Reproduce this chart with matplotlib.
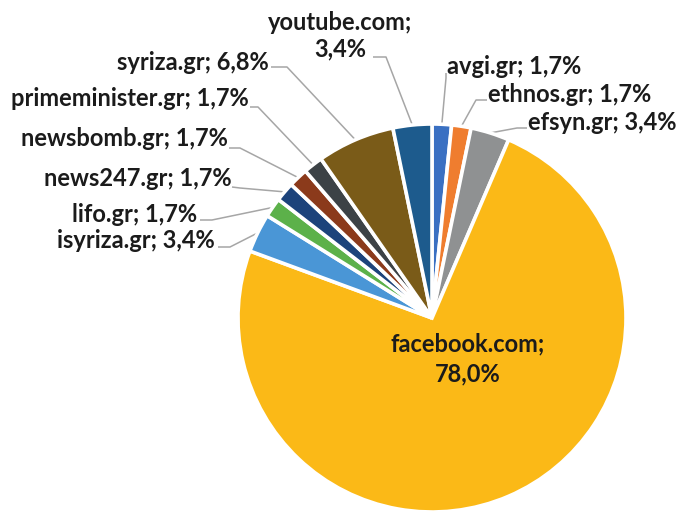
import numpy as np
import matplotlib
matplotlib.use("Agg")
import matplotlib.pyplot as plt

# ---- data ----
sites = ["avgi.gr", "ethnos.gr", "efsyn.gr", "facebook.com", "isyriza.gr", "lifo.gr",
         "news247.gr", "newsbomb.gr", "primeminister.gr", "syriza.gr", "youtube.com"]
values = [1.7, 1.7, 3.4, 78.0, 3.4, 1.7, 1.7, 1.7, 1.7, 6.8, 3.4]
value_labels = ["1,7%", "1,7%", "3,4%", "78,0%", "3,4%", "1,7%", "1,7%", "1,7%", "1,7%", "6,8%", "3,4%"]
colors = ["#3a70c2", "#ef7d2f", "#8f9192", "#fbb917", "#4a96d6", "#5cb14a",
          "#1c437b", "#8b3a1b", "#3c4246", "#7a5b18", "#1d5b8d"]

# ---- layout (pixel coords, origin top-left) ----
W, H = 677, 515
CX, CY, R = 432, 318, 194
# text anchor (x, y, ha, separator), leader start, leader elbow
label_layout = {
    "avgi.gr":          ((447, 67, "left", "; "),  (446, 73), (446, 78)),
    "ethnos.gr":        ((488, 95, "left", "; "),  (487, 100), (476, 100)),
    "efsyn.gr":         ((528, 123, "left", "; "), (527, 128), (517, 128)),
    "isyriza.gr":       ((215, 240, "right", "; "), (218, 247), (230, 247)),
    "lifo.gr":          ((197, 214, "right", "; "), (200, 220), (212, 220)),
    "news247.gr":       ((232, 179, "right", "; "), (232, 187), (240, 188)),
    "newsbomb.gr":      ((228, 139, "right", "; "), (229, 148), (240, 148)),
    "primeminister.gr": ((249, 99, "right", "; "),  (250, 107), (258, 107)),
    "syriza.gr":        ((269, 62, "right", "; "),  (271, 67), (287, 67)),
    "youtube.com":      ((340, 36, "center", ";\n"), (373, 57), (386, 57)),
}
fb_text_pos = (468, 359)

FONT = ["Lato", "DejaVu Sans"]
FS = 17
TXT = "#1b1b1b"
LINE = "#a6a6a6"

fig = plt.figure(figsize=(W / 100, H / 100), dpi=100)
ax = fig.add_axes([0, 0, 1, 1])

wedges, _ = ax.pie(values, colors=colors, startangle=90, counterclock=False,
                   radius=R, center=(CX, H - CY),
                   wedgeprops=dict(edgecolor="white", linewidth=2.6),
                   frame=True)
ax.set_xlim(0, W)
ax.set_ylim(0, H)
ax.set_aspect("auto")
ax.axis("off")

total = sum(values)
cum = 0.0
for s, v, vl in zip(sites, values, value_labels):
    mid = (cum + v / 2) / total * 2 * np.pi  # clockwise from top
    cum += v
    if s == "facebook.com":
        ax.text(fb_text_pos[0], H - fb_text_pos[1], f"{s};\n{vl}", ha="center", va="center",
                fontsize=FS, fontweight="bold", family=FONT, color=TXT, linespacing=1.35)
        continue
    (tx, ty, ha, sep), p0, p1 = label_layout[s]
    ex = CX + R * np.sin(mid)
    ey = CY - R * np.cos(mid)
    ax.plot([p0[0], p1[0], ex], [H - p0[1], H - p1[1], H - ey], color=LINE, lw=1.1,
            solid_capstyle="butt", zorder=0.5)
    ax.text(tx, H - ty, f"{s}{sep}{vl}", ha=ha, va="center", fontsize=FS,
            fontweight="bold", family=FONT, color=TXT, linespacing=1.2)

fig.savefig("out.png", dpi=100)
